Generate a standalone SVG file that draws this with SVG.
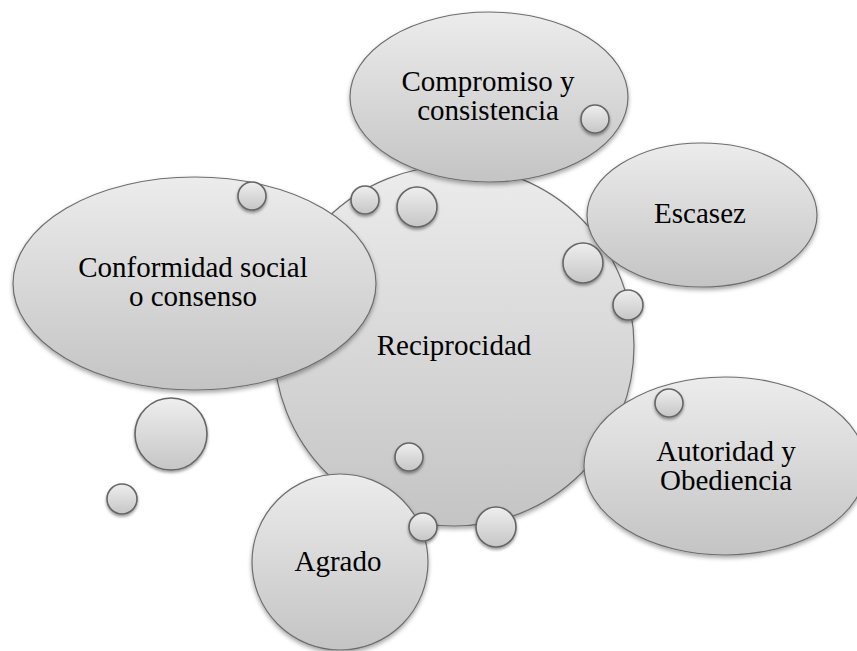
<svg xmlns="http://www.w3.org/2000/svg" width="857" height="651" viewBox="0 0 857 651">
  <defs>
    <linearGradient id="fillGrad" x1="0" y1="0" x2="0" y2="1">
      <stop offset="0" stop-color="#ececec"/>
      <stop offset="1" stop-color="#c4c4c4"/>
    </linearGradient>
    <linearGradient id="bubbleGrad" x1="0" y1="0" x2="0" y2="1">
      <stop offset="0" stop-color="#eeeeee"/>
      <stop offset="1" stop-color="#c6c6c6"/>
    </linearGradient>
    <filter id="shadow" x="-20%" y="-20%" width="140%" height="150%">
      <feDropShadow dx="0" dy="2.5" stdDeviation="2.2" flood-color="#000" flood-opacity="0.35"/>
    </filter>
    <filter id="bshadow" x="-40%" y="-40%" width="180%" height="190%">
      <feDropShadow dx="0" dy="2" stdDeviation="1.6" flood-color="#000" flood-opacity="0.4"/>
    </filter>
  </defs>
  <style>
    .node { fill: url(#fillGrad); stroke: #6e6e6e; stroke-width: 1.2; filter: url(#shadow); }
    .bubble { fill: url(#bubbleGrad); stroke: #666666; stroke-width: 1.6; filter: url(#bshadow); }
    .label { font-size: 29px; fill: #000; text-anchor: middle; }
  </style>
  <rect width="857" height="651" fill="#ffffff"/>

  <g id="reciprocidad">
    <circle class="node" cx="454" cy="346" r="180"/>
    <text class="label" font-family="Liberation Serif, DejaVu Serif, serif" x="454" y="355">Reciprocidad</text>
  </g>

  <g id="conformidad">
    <ellipse class="node" cx="194.5" cy="283.5" rx="181.5" ry="106.5"/>
    <text class="label" font-family="Liberation Serif, DejaVu Serif, serif" x="193" y="277">Conformidad social</text>
    <text class="label" font-family="Liberation Serif, DejaVu Serif, serif" x="193" y="306">o consenso</text>
  </g>

  <g id="compromiso">
    <ellipse class="node" cx="489" cy="97" rx="139" ry="85"/>
    <text class="label" font-family="Liberation Serif, DejaVu Serif, serif" x="488" y="91">Compromiso y</text>
    <text class="label" font-family="Liberation Serif, DejaVu Serif, serif" x="488" y="120">consistencia</text>
  </g>

  <g id="escasez">
    <ellipse class="node" cx="702" cy="215" rx="115" ry="72"/>
    <text class="label" font-family="Liberation Serif, DejaVu Serif, serif" x="700" y="223">Escasez</text>
  </g>

  <g id="autoridad">
    <ellipse class="node" cx="725" cy="466" rx="141" ry="89"/>
    <text class="label" font-family="Liberation Serif, DejaVu Serif, serif" x="726" y="461">Autoridad y</text>
    <text class="label" font-family="Liberation Serif, DejaVu Serif, serif" x="726" y="490">Obediencia</text>
  </g>

  <g id="agrado">
    <circle class="node" cx="340" cy="562" r="88"/>
    <text class="label" font-family="Liberation Serif, DejaVu Serif, serif" x="338" y="571">Agrado</text>
  </g>

  <g id="connectors"></g>

  <g id="bubbles">
    <circle id="b1" class="bubble" cx="595" cy="119" r="14"/>
    <circle id="b2" class="bubble" cx="365" cy="200" r="14"/>
    <circle id="b3" class="bubble" cx="417" cy="207" r="20"/>
    <circle id="b4" class="bubble" cx="252" cy="196" r="14"/>
    <circle id="b5" class="bubble" cx="583" cy="263" r="20"/>
    <circle id="b6" class="bubble" cx="628" cy="305" r="15"/>
    <circle id="b7" class="bubble" cx="669" cy="403" r="14"/>
    <circle id="b8" class="bubble" cx="409" cy="457" r="14"/>
    <circle id="b9" class="bubble" cx="171" cy="434" r="36"/>
    <circle id="b10" class="bubble" cx="122" cy="499" r="15"/>
    <circle id="b11" class="bubble" cx="423" cy="527" r="14"/>
    <circle id="b12" class="bubble" cx="496" cy="527" r="20"/>
  </g>
</svg>
